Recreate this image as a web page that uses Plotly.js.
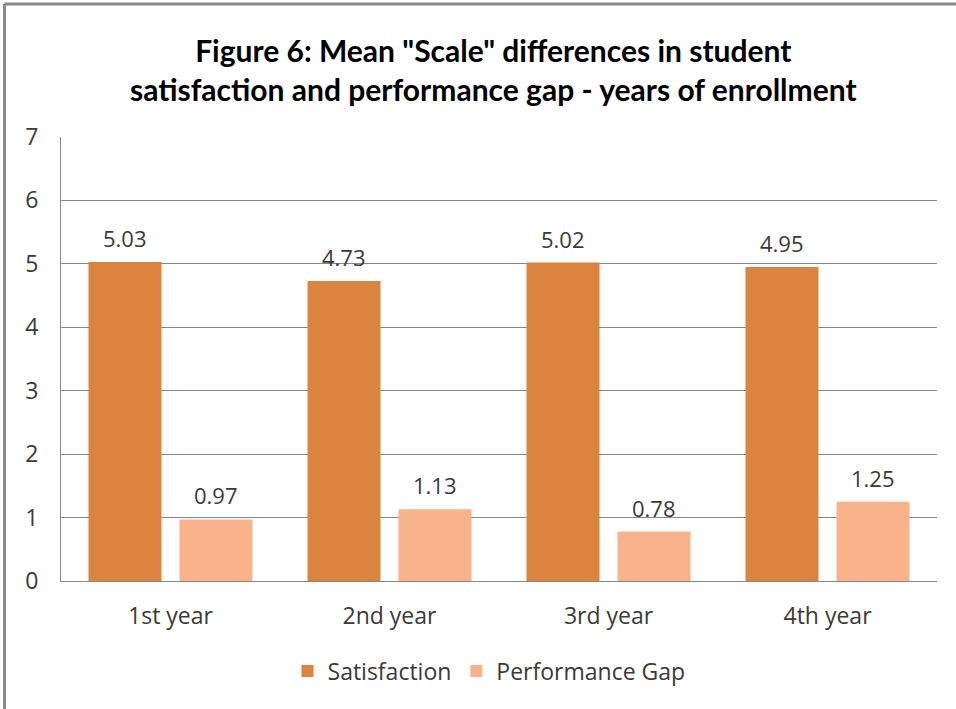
<!DOCTYPE html>
<html>
<head>
<meta charset="utf-8">
<script src="https://cdn.plot.ly/plotly-3.0.1.min.js"></script>
<style>html,body{margin:0;padding:0;background:#fff}#chart{width:956px;height:709px}</style>
</head>
<body>
<div id="chart"></div>
<script>
var categories = ["1st year", "2nd year", "3rd year", "4th year"];
var satisfaction = [5.03, 4.73, 5.02, 4.95];
var performanceGap = [0.97, 1.13, 0.78, 1.25];
var yTicks = [0, 1, 2, 3, 4, 5, 6, 7];

var FONT = "'Open Sans', Lato, sans-serif";
var TFONT = "Lato, 'Open Sans', sans-serif";
var TXT = "#3a3a3a";

var traces = [
  {type: "bar", name: "Satisfaction", x: categories, y: satisfaction,
   marker: {color: "#DB843F"}, hoverinfo: "y"},
  {type: "bar", name: "Performance Gap", x: categories, y: performanceGap,
   marker: {color: "#F8B38B"}, hoverinfo: "y"}
];

var annotations = [];
categories.forEach(function (c, i) {
  annotations.push({x: c, y: satisfaction[i], xref: "x", yref: "y", text: satisfaction[i].toFixed(2),
    showarrow: false, yanchor: "bottom", xshift: -45.5, yshift: 7, font: {size: 22, color: TXT, family: FONT}});
  annotations.push({x: c, y: performanceGap[i], xref: "x", yref: "y", text: performanceGap[i].toFixed(2),
    showarrow: false, yanchor: "bottom", xshift: 45.5, yshift: 7, font: {size: 22, color: TXT, family: FONT}});
});

var layout = {
  width: 956, height: 709,
  margin: {l: 61, r: 19, t: 137, b: 128},
  paper_bgcolor: "#fff", plot_bgcolor: "#fff",
  font: {family: FONT, color: TXT, size: 22},
  title: {text: "<b>Figure 6: Mean \"Scale\" differences in student<br>satisfaction and performance gap - years of enrollment</b>",
    font: {size: 30, color: "#000", family: TFONT}, x: 0.516, xanchor: "center", y: 0.912, yanchor: "top"},
  barmode: "group", bargap: 0.169, bargroupgap: 0.198,
  xaxis: {showgrid: false, showline: true, linecolor: "#878787", linewidth: 1, ticks: "",
    ticklabelstandoff: 14, tickfont: {size: 23, color: TXT, family: FONT}},
  yaxis: {range: [0, 7], tickvals: yTicks, showgrid: true, gridcolor: "#878787", gridwidth: 1,
    showline: true, linecolor: "#878787", linewidth: 1, zeroline: false, ticks: "",
    ticklabelstandoff: 17, tickfont: {size: 23, color: TXT, family: FONT}},
  legend: {orientation: "h", x: 0.4886, xanchor: "center", y: -0.203, yanchor: "middle",
    font: {size: 23, color: TXT, family: FONT}, itemwidth: 30, traceorder: "normal"},
  annotations: annotations,
  shapes: [
    {type: "line", xref: "paper", yref: "paper", x0: -0.0645, x1: 1.03, y0: 1.2995, y1: 1.2995, line: {color: "#8a8a8a", width: 3}},
    {type: "line", xref: "paper", yref: "paper", x0: -0.0645, x1: -0.0645, y0: 1.2995, y1: -0.3, line: {color: "#8a8a8a", width: 3}}
  ],
  showlegend: true
};

Plotly.newPlot("chart", traces, layout, {displayModeBar: false, staticPlot: true});
</script>
</body>
</html>
